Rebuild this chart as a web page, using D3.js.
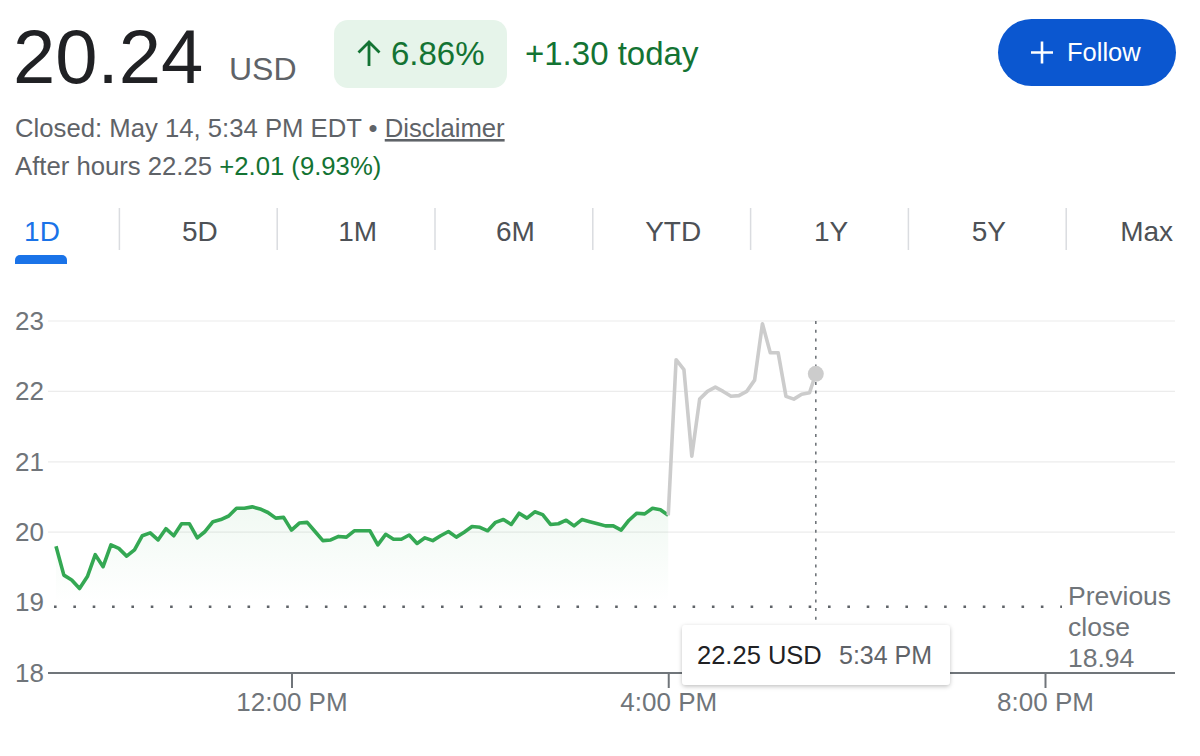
<!DOCTYPE html>
<html>
<head>
<meta charset="utf-8">
<script src="https://cdn.jsdelivr.net/npm/d3@7"></script>
<style>
  html, body { margin: 0; padding: 0; background: #fff; }
  svg { display: block; font-family: "Liberation Sans", Arial, sans-serif; }
</style>
</head>
<body>
<div id="chart"></div>
<script>
// 5-minute closes for the regular session, 9:30 AM to 4:00 PM
const sessionStart = [9, 30];
const stepMinutes = 5;
const sessionPrices = [
  19.80, 19.39, 19.32, 19.20, 19.37, 19.68, 19.51, 19.82, 19.77, 19.66,
  19.75, 19.95, 19.99, 19.89, 20.05, 19.95, 20.12, 20.12, 19.92, 20.01,
  20.15, 20.18, 20.23, 20.34, 20.34, 20.36, 20.33, 20.28, 20.20, 20.21,
  20.03, 20.13, 20.14, 20.01, 19.88, 19.89, 19.94, 19.93, 20.02, 20.02,
  20.02, 19.82, 19.97, 19.90, 19.90, 19.96, 19.84, 19.92, 19.88, 19.95,
  20.01, 19.93, 20.00, 20.08, 20.07, 20.02, 20.14, 20.18, 20.11, 20.27,
  20.20, 20.29, 20.25, 20.11, 20.12, 20.17, 20.09, 20.18, 20.15, 20.12,
  20.09, 20.09, 20.03, 20.17, 20.27, 20.26, 20.34, 20.32, 20.24
];
// after hours, 5-minute steps from 4:05 PM to 5:30 PM, then last trade at 5:34 PM
const afterHoursPrices = [
  22.45, 22.31, 21.08, 21.89, 22.00, 22.06, 22.00, 21.93, 21.94, 22.00,
  22.16, 22.96, 22.55, 22.55, 21.93, 21.89, 21.96, 21.98
];
const lastTrade = {time: [17, 34], price: 22.25};
const previousClose = 18.94;

const yTicks = [18, 19, 20, 21, 22, 23];
const gridValues = [20, 21, 22, 23];
const xTicks = [[12, 0], [16, 0], [20, 0]];
const tabs = ["1D", "5D", "1M", "6M", "YTD", "1Y", "5Y", "Max"];

const at = (h, m) => new Date(2024, 4, 14, h, m);
const t0 = at(sessionStart[0], sessionStart[1]);
const stepTime = i => new Date(t0.getTime() + i * stepMinutes * 60000);

const session = sessionPrices.map((p, i) => ({t: stepTime(i), p}));
const afterHours = [session[session.length - 1]]
  .concat(afterHoursPrices.map((p, i) => ({t: stepTime(sessionPrices.length + i), p})))
  .concat([{t: at(lastTrade.time[0], lastTrade.time[1]), p: lastTrade.price}]);

const W = 1200, H = 756;
const svg = d3.select("#chart").append("svg").attr("width", W).attr("height", H);
const defs = svg.append("defs");

// ---------- header ----------
const header = svg.append("g");
header.append("text").attr("x", 13).attr("y", 83)
  .attr("font-size", 76).attr("fill", "#202124").text("20.24");
header.append("text").attr("x", 229).attr("y", 80)
  .attr("font-size", 32).attr("fill", "#5f6368").text("USD");

header.append("rect").attr("x", 334).attr("y", 20).attr("width", 173).attr("height", 68)
  .attr("rx", 14).attr("fill", "#e6f4ea");
// up arrow
header.append("path").attr("d", "M369,66V42M358.5,52.5L369,42L379.5,52.5")
  .attr("fill", "none").attr("stroke", "#137333").attr("stroke-width", 2.8);
header.append("text").attr("x", 391).attr("y", 65)
  .attr("font-size", 33).attr("fill", "#137333").text("6.86%");
header.append("text").attr("x", 525).attr("y", 65)
  .attr("font-size", 33).attr("fill", "#137333").text("+1.30 today");

// follow button
header.append("rect").attr("x", 998).attr("y", 19).attr("width", 178).attr("height", 67)
  .attr("rx", 33.5).attr("fill", "#0b57d0");
header.append("path").attr("d", "M1031,52.5H1053M1042,41.5V63.5")
  .attr("stroke", "#fff").attr("stroke-width", 2.6);
header.append("text").attr("x", 1067).attr("y", 61)
  .attr("font-size", 25.5).attr("fill", "#fff").text("Follow");

const closed = header.append("text").attr("x", 15).attr("y", 137)
  .attr("font-size", 25.7).attr("fill", "#5f6368");
closed.append("tspan").text("Closed: May 14, 5:34 PM EDT \u2022 ");
closed.append("tspan").attr("text-decoration", "underline").text("Disclaimer");

const ah = header.append("text").attr("x", 15).attr("y", 175)
  .attr("font-size", 25.7).attr("fill", "#5f6368");
ah.append("tspan").text("After hours 22.25 ");
ah.append("tspan").attr("fill", "#137333").text("+2.01 (9.93%)");

// ---------- range tabs ----------
const tab = d3.scaleLinear().domain([0, 1]).range([42, 42 + 157.8]);
const tabG = svg.append("g");
tabG.selectAll("text").data(tabs).join("text")
  .attr("x", (d, i) => tab(i)).attr("y", 241)
  .attr("text-anchor", "middle").attr("font-size", 28)
  .attr("fill", (d, i) => i === 0 ? "#1a73e8" : "#4d5156")
  .text(d => d);
tabG.selectAll("line").data(tabs.slice(1)).join("line")
  .attr("x1", (d, i) => tab(i + 0.5) - 1.5).attr("x2", (d, i) => tab(i + 0.5) - 1.5)
  .attr("y1", 208).attr("y2", 250)
  .attr("stroke", "#dadce0").attr("stroke-width", 1.5);
tabG.append("path")
  .attr("d", "M15,264V260a5,5 0 0 1 5,-5H62a5,5 0 0 1 5,5V264Z")
  .attr("fill", "#1a73e8");

// ---------- chart ----------
const left = 48, right = 1175;
const x = d3.scaleTime().domain([t0, at(20, 0)]).range([56, 1045]);
const y = d3.scaleLinear().domain([18, 23]).range([673, 321]);

const chart = svg.append("g");

chart.append("g").selectAll("line").data(gridValues).join("line")
  .attr("x1", left).attr("x2", right)
  .attr("y1", d => y(d)).attr("y2", d => y(d))
  .attr("stroke", "#ececec").attr("stroke-width", 1.2);

// y labels
const yAxis = chart.append("g").attr("transform", "translate(15,0)")
  .call(d3.axisRight(y).tickValues(yTicks).tickSize(0).tickPadding(0).tickFormat(d3.format("d")));
yAxis.select(".domain").remove();
yAxis.selectAll("text").attr("font-size", 26).attr("fill", "#70757a")
  .attr("font-family", "Liberation Sans, Arial, sans-serif").attr("text-anchor", "start");

// x axis
chart.append("line").attr("x1", left).attr("x2", right)
  .attr("y1", y(18)).attr("y2", y(18))
  .attr("stroke", "#70757a").attr("stroke-width", 2);
const xAxis = chart.append("g").attr("transform", `translate(0,${y(18)})`)
  .call(d3.axisBottom(x).tickValues(xTicks.map(d => at(d[0], d[1])))
    .tickSize(15).tickPadding(5).tickFormat(d3.timeFormat("%-I:%M %p")));
xAxis.select(".domain").remove();
xAxis.selectAll("line").attr("stroke", "#70757a").attr("stroke-width", 2);
xAxis.selectAll("text").attr("font-size", 26).attr("fill", "#70757a")
  .attr("font-family", "Liberation Sans, Arial, sans-serif");

// previous close
chart.append("line").attr("x1", 54).attr("x2", 1062)
  .attr("y1", y(previousClose)).attr("y2", y(previousClose))
  .attr("stroke", "#5f6368").attr("stroke-width", 2.6)
  .attr("stroke-dasharray", "2.6,16.75");
chart.append("text").attr("font-size", 26.5).attr("fill", "#70757a")
  .selectAll("tspan").data(["Previous", "close", previousClose.toFixed(2)]).join("tspan")
  .attr("x", 1068).attr("y", (d, i) => 605 + i * 31).text(d => d);

// session area + line
const grad = defs.append("linearGradient")
  .attr("id", "fillGrad").attr("x1", 0).attr("x2", 0).attr("y1", 0).attr("y2", 1);
grad.append("stop").attr("offset", "0%").attr("stop-color", "#34a853").attr("stop-opacity", 0.07);
grad.append("stop").attr("offset", "100%").attr("stop-color", "#34a853").attr("stop-opacity", 0);

chart.append("path").datum(session)
  .attr("d", d3.area().x(d => x(d.t)).y0(y(previousClose) - 4).y1(d => y(d.p)))
  .attr("fill", "url(#fillGrad)");

chart.append("path").datum(session)
  .attr("d", d3.line().x(d => x(d.t)).y(d => y(d.p)))
  .attr("fill", "none").attr("stroke", "#34a853").attr("stroke-width", 3.6)
  .attr("stroke-linejoin", "round");

chart.append("path").datum(afterHours)
  .attr("d", d3.line().x(d => x(d.t)).y(d => y(d.p)))
  .attr("fill", "none").attr("stroke", "#cccccc").attr("stroke-width", 3.6)
  .attr("stroke-linejoin", "round");

// hover cursor
const last = afterHours[afterHours.length - 1];
chart.append("line").attr("x1", x(last.t)).attr("x2", x(last.t))
  .attr("y1", y(23)).attr("y2", y(18) + 8)
  .attr("stroke", "#70757a").attr("stroke-width", 1.6).attr("stroke-dasharray", "3,5.7");
chart.append("circle").attr("cx", x(last.t)).attr("cy", y(last.p)).attr("r", 8)
  .attr("fill", "#cccccc");

// tooltip
const shadow = defs.append("filter").attr("id", "shadow")
  .attr("x", "-20%").attr("y", "-30%").attr("width", "140%").attr("height", "170%");
shadow.append("feDropShadow").attr("dx", 0).attr("dy", 1.5).attr("stdDeviation", 2)
  .attr("flood-color", "#000").attr("flood-opacity", 0.25);

const tip = chart.append("g").attr("transform", "translate(682,625)");
tip.append("rect").attr("width", 268).attr("height", 60).attr("rx", 4)
  .attr("fill", "#fff").attr("filter", "url(#shadow)");
tip.append("text").attr("x", 15).attr("y", 39).attr("font-size", 25.5).attr("fill", "#202124")
  .text(last.p.toFixed(2) + " USD");
tip.append("text").attr("x", 157).attr("y", 39).attr("font-size", 25).attr("fill", "#5f6368")
  .text(d3.timeFormat("%-I:%M %p")(last.t));
</script>
</body>
</html>
